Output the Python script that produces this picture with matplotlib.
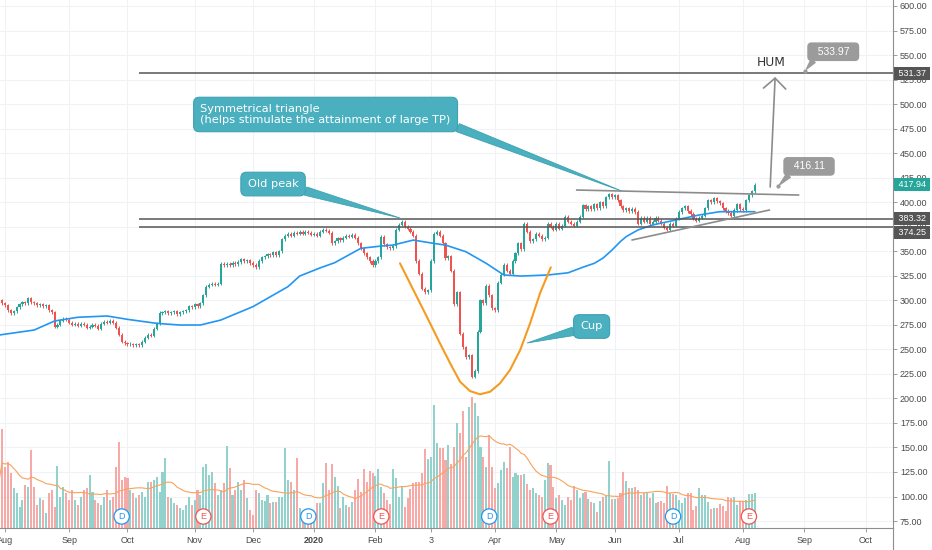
import numpy as np
import pandas as pd
import matplotlib
matplotlib.use("Agg")
import matplotlib.pyplot as plt
import matplotlib.transforms as mtransforms
from matplotlib.lines import Line2D

plt.rcParams["font.family"] = ["Liberation Sans", "DejaVu Sans"]

# NYSE trading days, extended past the last bar for the future part of the axis
holidays = ["2019-09-02", "2019-11-28", "2019-12-25", "2020-01-01", "2020-01-20",
            "2020-02-17", "2020-04-10", "2020-05-25", "2020-07-03", "2020-09-07"]
calendar = pd.bdate_range("2019-07-29", "2020-10-30", freq="C", holidays=holidays)

# daily closes of HUM, 2019-07-29 .. 2020-08-07
closes = [
    298, 300, 297, 295, 290, 287, 289, 293, 296, 298,
    297, 302, 298, 297, 295, 296, 294, 295, 290, 288,
    273, 275, 279, 281, 280, 277, 275, 276, 274, 276,
    275, 272, 273, 275, 274, 271, 276, 278, 277, 279,
    277, 272, 265, 258, 256, 255, 255, 254, 255, 254,
    258, 262, 265, 264, 271, 276, 287, 288, 289, 287,
    288, 289, 286, 288, 289, 290, 294, 293, 296, 294,
    297, 305, 314, 316, 317, 316, 317, 337, 336, 337,
    336, 338, 337, 339, 342, 340, 341, 338, 336, 334,
    340, 344, 345, 347, 346, 349, 346, 350, 362, 366,
    368, 366, 369, 368, 370, 368, 370, 369, 367, 368,
    366, 370, 372, 371, 369, 358, 360, 363, 361, 364,
    366, 365, 367, 364, 358, 353, 348, 344, 340, 336,
    340, 344, 365, 357, 354, 353, 355, 372, 377, 380,
    375, 373, 370, 366, 340, 327, 312, 308, 310, 340,
    368, 370, 366, 358, 343, 345, 330, 296, 308, 266,
    252, 242, 244, 222, 228, 268, 300, 297, 315, 305,
    292, 290, 318, 326, 336, 330, 327, 340, 348, 358,
    352, 378, 370, 360, 362, 368, 366, 362, 364, 378,
    375, 372, 378, 373, 376, 385, 380, 378, 376, 380,
    385, 397, 393, 396, 393, 398, 394, 400, 396, 405,
    408, 405, 407, 402, 396, 392, 394, 391, 393, 390,
    378, 384, 380, 384, 378, 380, 384, 381, 378, 374,
    372, 378, 376, 383, 390, 394, 396, 391, 388, 383,
    381, 384, 386, 394, 402, 400, 404, 401, 399, 394,
    391, 389, 386, 392, 398, 393, 392, 402, 407, 411,
    417.94,
]

# daily volume, millions of shares
volumes = [
    1.35, 1.60, 3.04, 1.89, 2.04, 1.68, 1.22, 1.07, 0.66, 0.86,
    1.32, 1.27, 2.40, 1.27, 0.71, 0.91, 0.86, 0.45, 1.07, 1.17,
    0.66, 1.91, 0.96, 1.27, 1.07, 0.86, 1.17, 0.86, 0.71, 0.96,
    1.17, 1.22, 1.63, 1.12, 0.86, 0.76, 0.71, 0.96, 1.17, 0.86,
    0.96, 1.89, 2.66, 1.48, 1.58, 1.53, 1.17, 1.07, 0.91, 1.02,
    1.12, 0.96, 1.43, 1.43, 1.48, 1.58, 1.12, 1.73, 2.14, 0.96,
    0.91, 0.76, 0.71, 0.61, 0.55, 0.71, 0.94, 0.71, 0.86, 1.17,
    1.02, 1.89, 1.97, 1.63, 1.73, 1.37, 1.02, 1.17, 1.37, 2.52,
    1.84, 1.02, 1.17, 1.43, 1.17, 1.48, 0.91, 0.55, 0.40, 1.17,
    1.07, 0.86, 0.84, 1.02, 0.76, 0.81, 0.81, 0.96, 0.96, 2.45,
    1.48, 1.43, 1.17, 2.14, 0.61, 0.40, 0.35, 0.30, 0.25, 0.25,
    0.76, 0.76, 1.37, 2.01, 1.17, 1.97, 1.58, 1.29, 0.61, 0.96,
    0.71, 0.66, 0.81, 1.17, 1.50, 1.12, 1.81, 1.43, 1.76, 1.68,
    1.60, 1.81, 1.27, 1.07, 0.86, 0.74, 1.81, 1.53, 0.96, 1.25,
    0.64, 0.93, 1.19, 1.37, 1.43, 1.43, 1.68, 2.42, 2.11, 2.17,
    3.78, 2.61, 2.45, 2.45, 2.09, 2.55, 1.97, 2.50, 3.22, 2.91,
    3.61, 2.20, 3.73, 4.04, 3.86, 3.45, 2.50, 2.20, 1.87, 2.86,
    1.87, 1.22, 1.37, 1.78, 2.04, 1.84, 2.50, 1.58, 1.70, 1.63,
    1.63, 1.65, 1.35, 1.17, 1.22, 1.09, 1.02, 0.96, 1.48, 2.01,
    1.94, 1.27, 0.91, 1.02, 0.86, 0.71, 0.94, 0.86, 1.29, 1.17,
    0.91, 1.09, 1.12, 0.88, 0.81, 0.78, 0.50, 0.83, 0.96, 0.98,
    2.06, 0.88, 0.88, 0.91, 1.07, 1.73, 1.45, 1.22, 1.22, 1.25,
    1.17, 1.02, 1.07, 1.07, 0.91, 1.09, 0.76, 0.81, 0.84, 0.76,
    1.29, 1.07, 1.04, 1.02, 0.86, 0.76, 0.91, 1.07, 1.07, 0.55,
    0.68, 1.24, 1.02, 1.02, 0.81, 0.58, 0.61, 0.61, 0.74, 0.68,
    0.53, 0.96, 0.91, 0.94, 0.71, 0.84, 0.84, 0.86, 1.05, 1.05,
    1.07,
]

# 50-day moving average, read at a few bars (bar number from first close)
ma_bars = [1, 13, 20, 28, 38, 45, 55, 63, 70, 77, 88, 100, 104, 111, 116, 125,
           132, 136, 143, 150, 154, 161, 168, 174, 180, 189, 196, 201, 205, 208,
           211, 214, 216, 220, 225, 233, 241, 248, 255, 260]
ma_values = [264.6, 269.7, 278.9, 282.7, 284.0, 280.6, 276.5, 274.8, 274.8, 279.9,
             293.5, 313.9, 324.7, 333.0, 338.3, 353.0, 355.3, 356.3, 361.4, 358.0,
             356.3, 349.5, 337.6, 325.8, 324.7, 325.8, 328.0, 333.6, 337.7, 343.0,
             351.0, 360.0, 365.0, 371.7, 376.8, 381.9, 387.0, 390.3, 390.3, 390.3]

event_dates = ["2019-09-27", "2019-11-06", "2019-12-30", "2020-02-05",
               "2020-03-30", "2020-04-29", "2020-06-29", "2020-08-05"]
event_kinds = ["D", "E", "D", "E", "D", "E", "D", "E"]

month_labels = ["Aug", "Sep", "Oct", "Nov", "Dec", "2020", "Feb", "3",
                "Apr", "May", "Jun", "Jul", "Aug", "Sep", "Oct"]

levels = [531.37, 383.32, 374.25]
level_start_bar = 49

# drawings: triangle legs and the cup
tri_upper_bars, tri_upper_prices = [199, 275], [412.4, 407.3]
tri_lower_bars, tri_lower_prices = [218, 265], [361.5, 392.0]
cup_bars = [138.4, 143.0, 147.6, 152.1, 155.6, 159.0, 162.4, 165.8, 169.3, 172.7,
            176.1, 179.6, 183.0, 186.4, 190.1]
cup_prices = [337.7, 310.5, 283.3, 256.2, 235.8, 217.0, 207.5, 204.2, 206.8, 215.4,
              228.9, 249.3, 276.5, 307.1, 333.6]

UP, DOWN = "#26a69a", "#ef5350"
UP_V, DOWN_V = "#92d2cc", "#f7a9a7"
TEAL, TEAL_EDGE = "#4aafbe", "#3fa2b1"
GRAY_TAG = "#9b9b9b"
AXIS = "#8e8e8e"
GRID = "#f0f2f5"
TXT = "#4a4a4a"

n = len(closes)
assert len(volumes) == n
x = np.arange(n)
c = np.array(closes, dtype=float)
o = np.array([closes[0]] + closes[:-1], dtype=float)
up = c >= o
month_first = [i for i in range(1, len(calendar)) if calendar[i].month != calendar[i - 1].month]
pos = {d.strftime("%Y-%m-%d"): i for i, d in enumerate(calendar)}

fig = plt.figure(figsize=(9.32, 5.5), dpi=100)
fig.patch.set_facecolor("white")
rect = [0, 22 / 550, 893 / 932, 528 / 550]
axv = fig.add_axes(rect)
ax = fig.add_axes(rect, sharex=axv)
ax.patch.set_alpha(0)
axv.axis("off")

ax.set_xlim(1.3, 307.4)
ax.set_ylim(67.9, 606.1)
axv.set_ylim(0, 16.25)

price_ticks = np.arange(75, 601, 25)

# grid (behind the volume)
grid_tf = mtransforms.blended_transform_factory(axv.transAxes, ax.transData)
for p in price_ticks:
    axv.plot([0, 1], [p, p], transform=grid_tf, color=GRID, lw=0.8, zorder=0)
for t in month_first:
    axv.axvline(t, color=GRID, lw=0.8, zorder=0)

# volume
axv.bar(x, volumes, width=0.7, color=np.where(up, UP_V, DOWN_V), lw=0, zorder=2)
vol_ma = pd.Series(volumes).rolling(20, min_periods=1).mean()
axv.plot(x, vol_ma, color="#f7a35c", lw=0.8, zorder=3)

# candles
WICK = 1.6
colors = np.where(up, UP, DOWN)
body_lo = np.minimum(o, c)
body_h = np.maximum(np.abs(c - o), 0.6)
ax.vlines(x, body_lo - WICK, body_lo + body_h + WICK, colors=colors, lw=0.7, zorder=3)
ax.bar(x, body_h, bottom=body_lo, width=0.72, color=colors, lw=0, zorder=4)

ax.plot(ma_bars, ma_values, color="#2196f3", lw=1.2, zorder=5)

# horizontal levels
for lv in levels:
    ax.hlines(lv, level_start_bar, 307.4, color="#555555", lw=1.1, zorder=6)

ax.plot(tri_upper_bars, tri_upper_prices, color="#8c8c8c", lw=1.2, zorder=6)
ax.plot(tri_lower_bars, tri_lower_prices, color="#8c8c8c", lw=1.2, zorder=6)
ax.plot(cup_bars, cup_prices, color="#f59b22", lw=1.5, zorder=6, solid_capstyle="round")

# target arrow and ticker
ax.annotate("", xy=(267.0, 527.6), xytext=(265.3, 415.5),
            arrowprops=dict(arrowstyle="->,head_length=0.75,head_width=0.8",
                            color="#8c8c8c", lw=1.2, shrinkA=0, shrinkB=0), zorder=6)
ax.text(265.6, 541.9, "HUM", fontsize=8.8, family="DejaVu Sans", color="#333333",
        ha="center", va="center", zorder=6)

# teal callouts
def callout(text, text_xy, tip_xy, relpos):
    ax.annotate(text, xy=tip_xy, xytext=text_xy, ha="center", va="center",
                multialignment="left", linespacing=1.1, fontsize=8.2,
                family="DejaVu Sans", color="white", zorder=7,
                bbox=dict(boxstyle="round,pad=0.6,rounding_size=0.5", fc=TEAL, ec=TEAL_EDGE, lw=0.8),
                arrowprops=dict(arrowstyle="wedge,tail_width=0.75,shrink_factor=0.5",
                                fc=TEAL, ec=TEAL_EDGE, lw=0.6, relpos=relpos,
                                shrinkA=0, shrinkB=0))

callout("Symmetrical triangle\n(helps stimulate the attainment of large TP)",
        (112.9, 489.4), (214.4, 411.4), (1.0, 0.0))
callout("Old peak", (94.9, 418.5), (138.4, 383.9), (1.0, 0.0))
callout("Cup", (204.1, 273.3), (182.0, 256.5), (0.0, 0.2))

# gray price callouts
def price_callout(bar, price, dx, dy):
    ax.plot([bar], [price], marker="o", ms=2, color=GRAY_TAG, zorder=7)
    ax.annotate(f"  {price:.2f}  ", xy=(bar, price), xytext=(dx, dy),
                textcoords="offset points", ha="center", va="center", fontsize=7.5,
                color="white", zorder=7,
                bbox=dict(boxstyle="round,pad=0.35,rounding_size=0.35", fc=GRAY_TAG, ec=GRAY_TAG),
                arrowprops=dict(arrowstyle="wedge,tail_width=0.5", fc=GRAY_TAG, ec=GRAY_TAG,
                                relpos=(0.12, 0.05), shrinkA=0, shrinkB=1.5))

price_callout(277.3, 533.97, 20.2, 13.7)
price_callout(268.0, 416.11, 22.3, 14.4)

# dividend / earnings markers
ev_tf = mtransforms.blended_transform_factory(ax.transData, ax.transAxes)
for d, k in zip(event_dates, event_kinds):
    col = "#2196f3" if k == "D" else "#ef5350"
    ax.text(pos[d], 0.0218, k, transform=ev_tf, ha="center", va="center", fontsize=6.5,
            color=col, zorder=8,
            bbox=dict(boxstyle="circle,pad=0.35", fc="white", ec=col, lw=0.9))

# axes styling
ax.yaxis.tick_right()
ax.set_yticks(price_ticks)
ax.set_yticklabels([f"{v:.2f}" for v in price_ticks])
ax.set_xticks(month_first)
ax.set_xticklabels(month_labels)
ax.get_xticklabels()[5].set_fontweight("bold")
ax.tick_params(axis="y", length=3, width=0.6, color=AXIS, labelsize=6.5, labelcolor=TXT, pad=2)
ax.tick_params(axis="x", length=3, width=0.6, color=AXIS, labelsize=6.5, labelcolor=TXT, pad=3)
for s in ["left", "top"]:
    ax.spines[s].set_visible(False)
for s in ["right", "bottom"]:
    ax.spines[s].set_color(AXIS)
    ax.spines[s].set_linewidth(0.8)
fig.add_artist(Line2D([893 / 932, 893 / 932], [0, 22 / 550], transform=fig.transFigure,
                      color=AXIS, lw=0.8))

# price-scale tags
tag_tf = mtransforms.blended_transform_factory(ax.transAxes, ax.transData)
def axis_tag(price, color, shift=0):
    ax.annotate(f" {price:.2f} ", xy=(1, price), xycoords=tag_tf, xytext=(2.0, shift),
                textcoords="offset points", ha="left", va="center", fontsize=6.5,
                color="white", annotation_clip=False, zorder=9,
                bbox=dict(boxstyle="square,pad=0.2", fc=color, ec="none"))

axis_tag(531.37, "#555555")
axis_tag(417.94, UP)
axis_tag(383.32, "#555555")
axis_tag(374.25, "#555555", shift=-3.7)

fig.savefig("out.png", dpi=100, facecolor="white")
